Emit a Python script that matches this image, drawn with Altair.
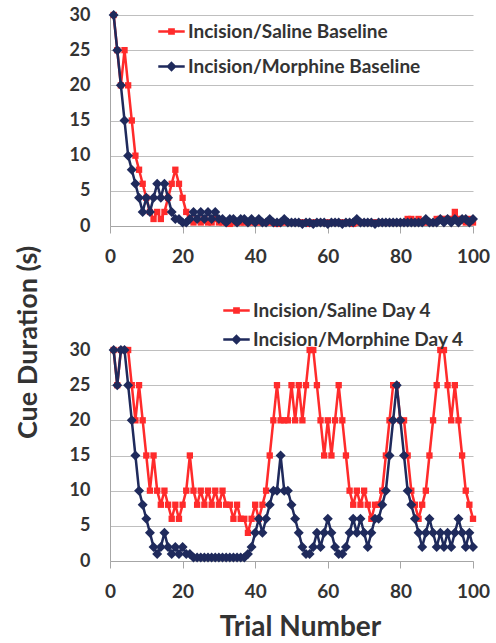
import altair as alt
import pandas as pd

trials = list(range(1, 101))

saline_baseline = [
    30, 25, 20, 25, 20, 15, 10, 8, 6, 4,
    2, 1, 2, 1, 2, 4, 6, 8, 6, 4,
    2, 1, 0.5, 1, 0.5, 1, 0.5, 0.5, 1, 0.5,
    0.5, 0.5, 0.3, 0.5, 0.5, 0.5, 0.5, 0.5, 0.5, 0.5,
    0.5, 0.5, 0.5, 0.5, 0.5, 0.3, 0.5, 0.5, 0.5, 0.5,
    0.5, 0.5, 0.5, 0.5, 0.3, 0.5, 0.5, 0.5, 0.5, 0.5,
    0.5, 0.5, 0.5, 0.5, 0.5, 0.5, 0.3, 0.5, 0.5, 0.5,
    0.5, 0.5, 0.5, 0.5, 0.5, 0.5, 0.5, 0.5, 0.5, 0.5,
    0.5, 1, 1, 0.5, 1, 0.5, 0.5, 0.5, 0.5, 1,
    1, 1, 1, 1, 2, 1, 1, 0.5, 1, 0.5,
]
morphine_baseline = [
    30, 25, 20, 15, 10, 8, 6, 4, 2, 4,
    2, 4, 6, 4, 6, 4, 2, 1, 1, 0.5,
    0.5, 1, 2, 1, 2, 1, 2, 1, 2, 1,
    1, 0.5, 1, 1, 0.5, 1, 1, 0.5, 1, 0.5,
    1, 0.5, 0.5, 1, 0.5, 0.5, 0.5, 1, 0.5, 0.5,
    0.5, 0.5, 0.3, 0.5, 0.5, 0.3, 0.5, 0.5, 0.5, 0.3,
    0.5, 0.5, 0.5, 0.3, 0.5, 0.5, 0.5, 1, 0.5, 0.5,
    0.5, 0.5, 0.3, 0.5, 0.5, 0.5, 0.5, 0.5, 0.5, 0.5,
    0.5, 0.5, 0.5, 0.5, 0.5, 0.5, 1, 0.5, 0.5, 0.5,
    1, 0.5, 1, 0.5, 1, 0.5, 1, 1, 0.5, 1,
]
saline_day4 = [
    30, 25, 30, 30, 30, 25, 20, 25, 20, 15,
    10, 15, 10, 8, 10, 8, 6, 8, 6, 8,
    10, 15, 10, 8, 10, 8, 10, 8, 10, 8,
    10, 8, 8, 6, 8, 6, 6, 4, 6, 8,
    6, 8, 10, 15, 20, 25, 20, 20, 20, 25,
    20, 25, 20, 25, 30, 30, 25, 20, 15, 20,
    15, 20, 25, 20, 15, 10, 8, 10, 8, 10,
    8, 6, 8, 8, 10, 15, 20, 25, 25, 20,
    20, 15, 10, 8, 6, 8, 10, 15, 20, 25,
    30, 30, 25, 20, 25, 20, 15, 10, 8, 6,
]
morphine_day4 = [
    30, 25, 30, 30, 25, 20, 15, 10, 8, 6,
    4, 2, 1, 2, 4, 2, 1, 2, 1, 2,
    1, 1, 0.5, 0.5, 0.5, 0.5, 0.5, 0.5, 0.5, 0.5,
    0.5, 0.5, 0.5, 0.5, 0.5, 0.5, 0.5, 1, 2, 4,
    6, 4, 6, 8, 10, 10, 15, 10, 10, 8,
    6, 4, 2, 1, 1, 2, 4, 2, 4, 6,
    4, 2, 1, 1, 2, 4, 6, 4, 6, 4,
    2, 4, 6, 6, 8, 10, 15, 20, 25, 20,
    15, 10, 8, 6, 4, 2, 4, 6, 4, 2,
    4, 2, 4, 2, 4, 6, 4, 2, 4, 2,
]

top_names = ["Incision/Saline Baseline", "Incision/Morphine Baseline"]
bottom_names = ["Incision/Saline Day 4", "Incision/Morphine Day 4"]
x_ticks = [0, 20, 40, 60, 80, 100]
y_ticks = [0, 5, 10, 15, 20, 25, 30]
y_title = "Cue Duration (s)"
x_title = "Trial Number"

RED = "#FF2B2B"
NAVY = "#1F2A5C"
FONT = "Lato"
TXT = "#333333"
# legend glyphs: a line segment with a marker in its middle (nested outlines to look filled)
SQ_PATH = ("M-1,0L1,0"
           "M-0.16,-0.16L0.16,-0.16L0.16,0.16L-0.16,0.16Z"
           "M-0.06,-0.06L0.06,-0.06L0.06,0.06L-0.06,0.06Z")
DI_PATH = ("M-1,0L1,0"
           "M0,-0.26L0.26,0L0,0.26L-0.26,0Z"
           "M0,-0.12L0.12,0L0,0.12L-0.12,0Z")

PW, PH = 363, 211


def panel(sal, mor, names, lx, ly, row_pad, show_x_title, show_y_title):
    sal_name, mor_name = names
    df = pd.DataFrame({
        "trial": trials + trials,
        "value": sal + mor,
        "series": [sal_name] * len(trials) + [mor_name] * len(trials),
    })
    legend = alt.Legend(
        title=None, orient="none", legendX=lx, legendY=ly, padding=0,
        labelFont=FONT, labelFontSize=19, labelFontWeight="bold", labelColor=TXT,
        labelLimit=400, labelOffset=2, rowPadding=row_pad, symbolSize=700,
        symbolStrokeWidth=2.5, symbolOpacity=1,
    )
    xaxis_kw = dict(values=x_ticks, grid=False, labelFlush=False, tickSize=7,
                    labelPadding=14, labelFontSize=19)
    if show_x_title:
        xaxis_kw.update(title=x_title, titleX=190, titleY=66, titleAlign="center",
                        titleBaseline="middle", titleFontSize=28)
    else:
        xaxis_kw.update(title=None)
    yaxis_kw = dict(values=y_ticks, grid=True, ticks=False, labelPadding=20,
                    labelFlush=False, labelFontSize=18)
    if show_y_title:
        yaxis_kw.update(title=y_title, titleX=-82, titleY=327, titleAngle=270,
                        titleAlign="center", titleBaseline="middle", titleFontSize=27)
    else:
        yaxis_kw.update(title=None)

    x = alt.X("trial:Q", scale=alt.Scale(domain=[0, 100], nice=False), axis=alt.Axis(**xaxis_kw))
    y = alt.Y("value:Q", scale=alt.Scale(domain=[0, 30], nice=False), axis=alt.Axis(**yaxis_kw))
    color = alt.Color("series:N", scale=alt.Scale(domain=[sal_name, mor_name], range=[RED, NAVY]),
                      legend=legend)
    shape = alt.Shape("series:N", scale=alt.Scale(domain=[sal_name, mor_name], range=[SQ_PATH, DI_PATH]),
                      legend=legend)
    base = alt.Chart(df)
    s = base.transform_filter(alt.datum.series == sal_name)
    m = base.transform_filter(alt.datum.series == mor_name)
    legend_layer = base.transform_filter("false").mark_point(filled=False, strokeWidth=2.5).encode(
        x=x, y=y, color=color, shape=shape)
    layers = [
        s.mark_line(strokeWidth=2.5).encode(x=x, y=y, color=color),
        s.mark_point(shape="square", filled=True, size=40, opacity=1).encode(x=x, y=y, color=color),
        m.mark_line(strokeWidth=2.5).encode(x=x, y=y, color=color),
        m.mark_point(shape="diamond", filled=True, size=100, opacity=1).encode(x=x, y=y, color=color),
        legend_layer,
    ]
    return alt.layer(*layers).properties(width=PW, height=PH)


top = panel(saline_baseline, morphine_baseline, top_names, 47, 2, 10, False, True)
bottom = panel(saline_day4, morphine_day4, bottom_names, 112, -54, 4, True, False)

chart = alt.vconcat(top, bottom, spacing=124, bounds="flush").resolve_scale(
    color="independent", shape="independent"
).properties(
    padding={"left": 14, "top": 6, "right": 5, "bottom": 5},
    background="white",
).configure_view(stroke=None).configure_axis(
    labelFont=FONT, labelFontWeight="bold", labelColor=TXT,
    titleFont=FONT, titleFontWeight="bold", titleColor=TXT, titleFontSize=26,
    gridColor="#BFBFBF", gridWidth=1, domainColor="#A6A6A6", domainWidth=1,
    tickColor="#A6A6A6",
)

chart.save("out.html", embed_options={"renderer": "svg", "actions": False})
